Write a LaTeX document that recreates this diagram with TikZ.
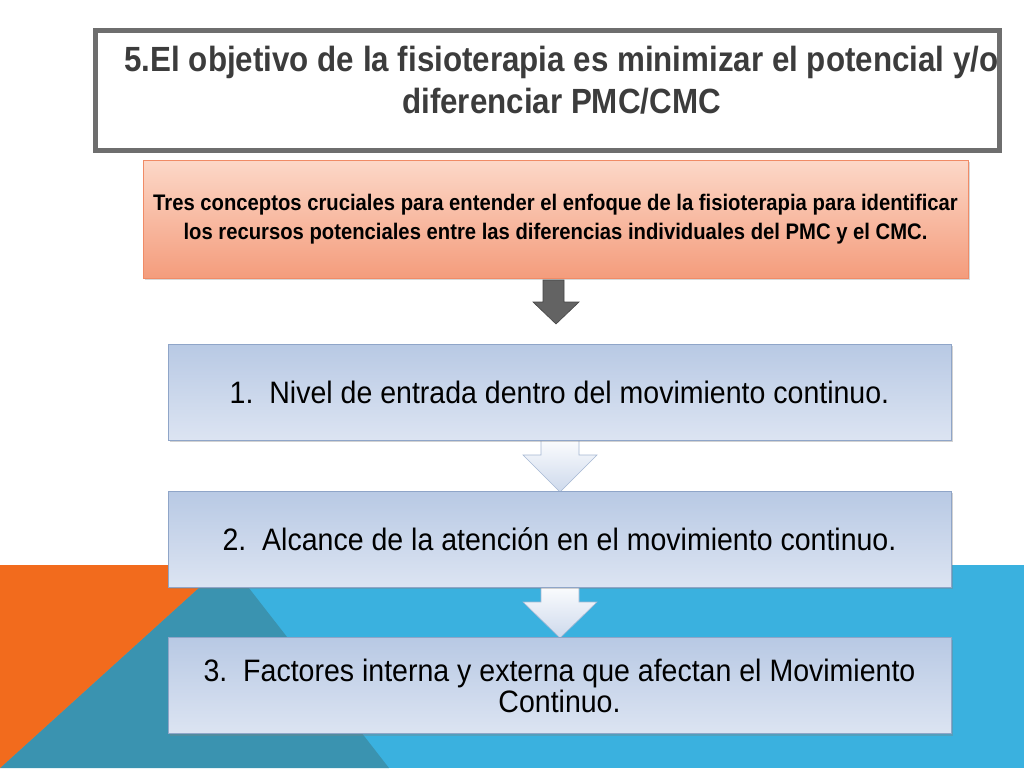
\documentclass[tikz,border=0pt]{standalone}
\usepackage{fontspec}
\setmainfont{Liberation Sans}[FakeStretch=0.92]
\newfontfamily\titlefont{Liberation Sans}[FakeStretch=0.895]
\newfontfamily\introfont{Liberation Sans}[FakeStretch=0.9]
\usetikzlibrary{shadows,calc}
\definecolor{bgorange}{HTML}{F26B1D}
\definecolor{bgteal}{HTML}{3A93B0}
\definecolor{bgblue}{HTML}{3AB1DF}
\definecolor{titlegray}{HTML}{6E6E6E}
\definecolor{titletext}{HTML}{3C3C3C}
\definecolor{salmontop}{HTML}{FCD8C8}
\definecolor{salmonbot}{HTML}{F49C7C}
\definecolor{salmonedge}{HTML}{F08B66}
\definecolor{bluetop}{HTML}{B8C9E4}
\definecolor{bluebot}{HTML}{DCE4F2}
\definecolor{blueedge}{HTML}{8FA5C8}
\definecolor{arrowgray}{HTML}{636363}
\tikzset{
  titlebox/.style={draw=titlegray, line width=5pt, fill=white, minimum width=904, minimum height=120, inner sep=0pt,
    drop shadow={opacity=0.25, shadow xshift=2pt, shadow yshift=-2pt}},
  salmonbox/.style={draw=salmonedge, line width=0.8pt, top color=salmontop, bottom color=salmonbot, minimum width=825, minimum height=118, inner sep=0pt,
    drop shadow={opacity=0.3, shadow xshift=2pt, shadow yshift=-2pt}},
  stepbox/.style={draw=blueedge, line width=0.8pt, top color=bluetop, bottom color=bluebot, minimum width=783, minimum height=96, inner sep=0pt,
    drop shadow={opacity=0.35, shadow xshift=2pt, shadow yshift=-2pt}},
  chevron/.style={draw=blueedge!80, line width=0.6pt, top color=white, bottom color=bluetop!70, shading angle=0},
  grayarrow/.style={draw=arrowgray!70!black, line width=0.6pt, fill=arrowgray},
}
\begin{document}
\begin{tikzpicture}[x=1pt,y=-1pt]
\useasboundingbox (0,0) rectangle (1024,768);
% background
\fill[white] (0,0) rectangle (1024,768);
\fill[bgblue] (0,565) rectangle (1024,768);
\fill[bgteal] (224,565) -- (231,565) -- (389,768) -- (0,768) -- cycle;
\fill[bgorange] (0,565) -- (224,565) -- (0,768) -- cycle;
% title
\node[titlebox] (title) at (547.5,90.5) {};
\node[text=titletext, font=\titlefont\bfseries\fontsize{35}{42}\selectfont, align=center, anchor=center] (titletxt) at (561.5,80)
  {5.El objetivo de la fisioterapia es minimizar el potencial y/o\\diferenciar PMC/CMC};
% salmon box
\node[salmonbox, font=\introfont\bfseries\fontsize{22.5}{29}\selectfont, align=center] (intro) at (555.5,219)
  {Tres conceptos cruciales para entender el enfoque de la fisioterapia para identificar\\los recursos potenciales entre las diferencias individuales del PMC y el CMC.};
% gray arrow
\draw[grayarrow] (543,280) -- (564,280) -- (564,302) -- (579,302) -- (556,324) -- (533,302) -- (543,302) -- cycle;
% chevrons (drawn beneath boxes)
\coordinate (c1) at (560,440);
\coordinate (c2) at (560,587);
\draw[chevron] ($(c1)+(-19,-5)$) -- ($(c1)+(19,-5)$) -- ($(c1)+(19,15)$) -- ($(c1)+(37,15)$) -- ($(c1)+(0,52)$) -- ($(c1)+(-37,15)$) -- ($(c1)+(-19,15)$) -- cycle;
\draw[chevron] ($(c2)+(-19,-5)$) -- ($(c2)+(19,-5)$) -- ($(c2)+(19,15)$) -- ($(c2)+(37,15)$) -- ($(c2)+(0,51)$) -- ($(c2)+(-37,15)$) -- ($(c2)+(-19,15)$) -- cycle;
% step boxes
\node[stepbox, font=\fontsize{31}{31}\selectfont, align=center] (s1) at (559.5,392)
  {1.\ \ Nivel de entrada dentro del movimiento continuo.};
\node[stepbox, font=\fontsize{31}{31}\selectfont, align=center] (s2) at (559.5,539)
  {2.\ \ Alcance de la atención en el movimiento continuo.};
\node[stepbox, font=\fontsize{31}{31}\selectfont, align=center] (s3) at (559.5,685.5)
  {3.\ \ Factores interna y externa que afectan el Movimiento\\Continuo.};
\end{tikzpicture}
\end{document}
